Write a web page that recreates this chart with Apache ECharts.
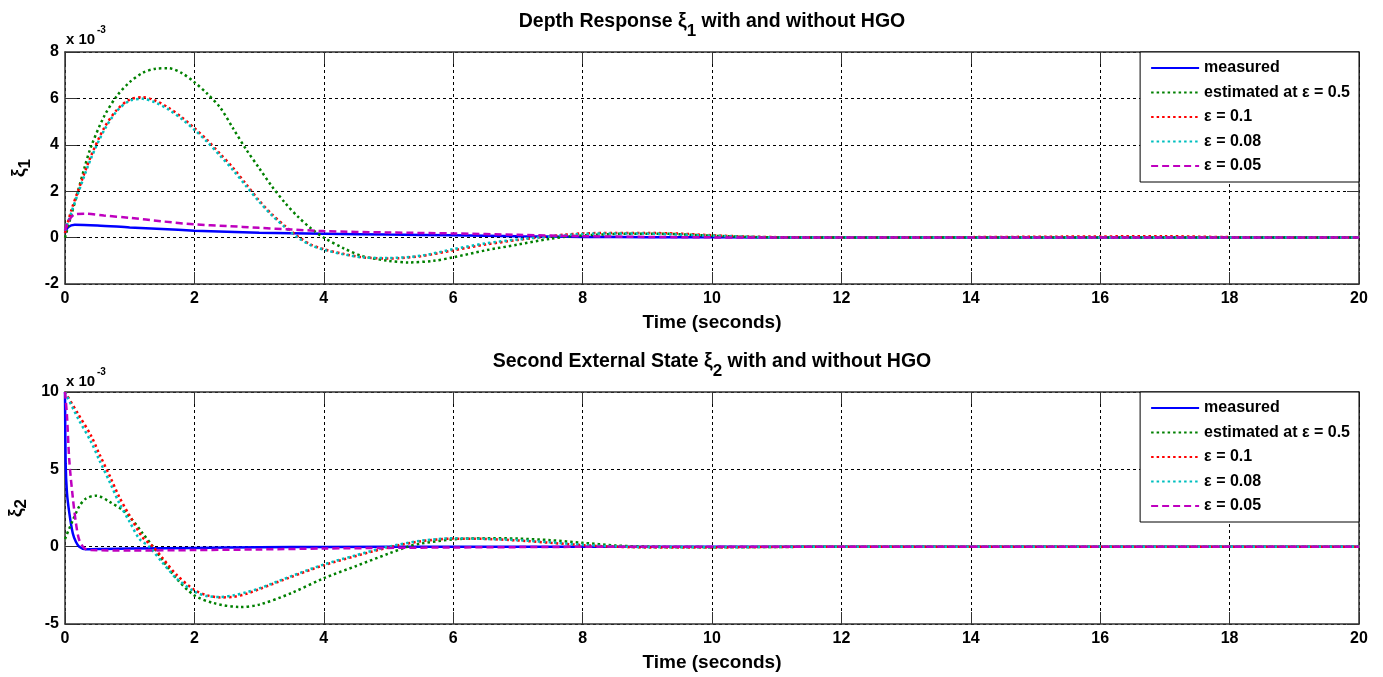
<!DOCTYPE html>
<html>
<head>
<meta charset="utf-8">
<script src="https://cdn.jsdelivr.net/npm/echarts@6/dist/echarts.min.js"></script>
<style>
html,body{margin:0;padding:0;background:#fff;}
#c{width:1383px;height:677px;}
</style>
</head>
<body>
<div id="c"></div>
<script>
// ---------- DATA (values in units of 1e-3) ----------
const xTicks = [0, 2, 4, 6, 8, 10, 12, 14, 16, 18, 20];
const y1Ticks = [-2, 0, 2, 4, 6, 8];
const y2Ticks = [-5, 0, 5, 10];
const seriesNames = ['measured', 'estimated at \u03b5 = 0.5', '\u03b5 = 0.1', '\u03b5 = 0.08', '\u03b5 = 0.05'];

// Plot 1: depth response xi_1  ([time, value])
const xi1_measured = [[0,0.2],[0.05,0.45],[0.15,0.55],[0.5,0.52],[1,0.44],[1.5,0.37],[2,0.3],[2.5,0.25],[3,0.21],[4,0.17],[5,0.13],[6,0.1],[7,0.06],[8,0.03],[9,0.02],[10,0.01],[12,0],[20,0]];
const xi1_eps05 = [[0,0],[0.1,1.0],[0.2,2.0],[0.3,3.0],[0.4,3.9],[0.6,5.2],[0.8,6.1],[1.0,6.7],[1.2,7.1],[1.4,7.28],[1.6,7.3],[1.8,7.1],[2,6.7],[2.2,6.2],[2.4,5.6],[2.6,4.7],[2.8,3.8],[3,3.0],[3.2,2.2],[3.4,1.5],[3.6,0.9],[3.8,0.4],[4,0.0],[4.3,-0.45],[4.6,-0.8],[5,-1.0],[5.3,-1.07],[5.7,-1.0],[6,-0.85],[6.5,-0.55],[7,-0.3],[7.5,-0.05],[7.8,0.05],[8.2,0.12],[8.7,0.17],[9.2,0.17],[9.7,0.12],[10.2,0.06],[10.7,0.02],[11.5,0],[20,0]];
const xi1_eps01 = [[0,0.2],[0.1,1.2],[0.2,2.0],[0.4,3.5],[0.6,4.7],[0.8,5.5],[1.0,5.95],[1.2,6.05],[1.4,5.9],[1.6,5.6],[1.8,5.2],[2,4.72],[2.2,4.2],[2.4,3.6],[2.6,3.0],[2.8,2.3],[3,1.6],[3.2,1.0],[3.4,0.5],[3.6,0.05],[3.8,-0.3],[4,-0.5],[4.3,-0.7],[4.6,-0.85],[5,-0.9],[5.5,-0.8],[6,-0.55],[6.5,-0.3],[7,-0.1],[7.3,0],[7.7,0.12],[8,0.18],[8.5,0.2],[9,0.2],[9.5,0.17],[10,0.1],[10.5,0.05],[11,0.02],[12,0],[16,0.05],[17,0.06],[18,0.02],[20,0]];
const xi1_eps008 = [[0,0.3],[0.1,1.1],[0.2,1.9],[0.4,3.4],[0.6,4.6],[0.8,5.45],[1.0,5.9],[1.2,5.98],[1.4,5.82],[1.6,5.52],[1.8,5.12],[2,4.65],[2.2,4.12],[2.4,3.52],[2.6,2.9],[2.8,2.22],[3,1.55],[3.2,0.95],[3.4,0.45],[3.6,0.0],[3.8,-0.33],[4,-0.52],[4.3,-0.72],[4.6,-0.85],[5,-0.88],[5.5,-0.78],[6,-0.5],[6.5,-0.25],[7,-0.08],[7.3,0],[7.7,0.1],[8,0.16],[8.5,0.18],[9,0.17],[9.5,0.13],[10,0.08],[10.5,0.04],[11,0.01],[12,0],[20,0]];
const xi1_eps005 = [[0,0.3],[0.05,0.7],[0.15,1.0],[0.3,1.03],[0.6,0.95],[1,0.85],[1.5,0.7],[2,0.57],[2.5,0.5],[3,0.42],[3.5,0.35],[4,0.28],[5,0.22],[6,0.18],[7,0.12],[8,0.06],[9,0.03],[10,0.01],[11,0],[20,0]];

// Plot 2: second external state xi_2
const xi2_measured = [[0,10],[0.01,5.4],[0.03,3.5],[0.066,2.2],[0.12,0.87],[0.17,0.3],[0.22,0],[0.32,-0.17],[0.6,-0.15],[1,-0.12],[2,-0.08],[3,-0.04],[4,-0.02],[6,0],[20,0]];
const xi2_eps05 = [[0,0.5],[0.12,1.7],[0.22,2.6],[0.32,3.1],[0.48,3.3],[0.69,2.9],[0.95,2.16],[1.2,0.87],[1.36,0],[1.72,-2.04],[2,-3.15],[2.3,-3.65],[2.7,-3.9],[3.0,-3.75],[3.5,-3.0],[4,-2.04],[4.5,-1.25],[5,-0.45],[5.3,0],[5.5,0.2],[6,0.47],[6.5,0.55],[7,0.52],[7.5,0.42],[8,0.25],[8.5,0.08],[9,0],[10,-0.03],[12,0],[20,0]];
const xi2_eps01 = [[0,10],[0.2,8.6],[0.4,7.2],[0.53,6.0],[0.7,4.5],[0.84,3.2],[1.0,2.0],[1.2,0.6],[1.36,0],[1.5,-0.7],[1.72,-1.8],[2,-2.8],[2.2,-3.15],[2.4,-3.28],[2.6,-3.25],[2.8,-3.05],[3,-2.75],[3.5,-1.95],[4,-1.2],[4.5,-0.6],[5,-0.05],[5.5,0.35],[6,0.52],[6.5,0.5],[7,0.4],[7.5,0.25],[8,0.1],[8.5,0],[9,-0.05],[10,-0.05],[11,-0.02],[12,0],[20,0]];
const xi2_eps008 = [[0,10],[0.2,8.3],[0.4,6.8],[0.53,5.6],[0.7,4.1],[0.84,2.8],[1.0,1.6],[1.15,0.5],[1.3,0],[1.5,-1.0],[1.72,-2.04],[2,-2.9],[2.2,-3.2],[2.4,-3.25],[2.6,-3.15],[2.8,-2.95],[3,-2.7],[3.5,-1.9],[4,-1.15],[4.5,-0.55],[5,0],[5.5,0.38],[6,0.54],[6.5,0.5],[7,0.42],[7.5,0.28],[8,0.12],[8.5,0.02],[9,-0.04],[10,-0.04],[11,-0.02],[12,0],[20,0]];
const xi2_eps005 = [[0,10],[0.03,8.5],[0.066,5.6],[0.12,3.2],[0.17,1.5],[0.22,0.43],[0.3,-0.1],[0.4,-0.22],[1,-0.25],[2,-0.22],[3,-0.18],[4,-0.12],[5,-0.08],[6,-0.05],[7,-0.03],[8,-0.01],[9,0],[20,0]];

// ---------- STYLE ----------
const FONT = 'Liberation Sans, Arial, Helvetica, sans-serif';
const colors = ['#0000ff', '#008000', '#ff0000', '#00bfbf', '#bf00bf'];
const lineTypes = ['solid', [2.5, 3], [2.5, 3], [2.5, 3], [7, 4]];
const lineWidths = [2.5, 2.5, 2.5, 2.5, 2.5];

const chart = echarts.init(document.getElementById('c'), null, {renderer: 'canvas'});

const G = [
  {left: 65, right: 24, top: 52, height: 232, containLabel: false, outerBoundsMode: 'none'},
  {left: 65, right: 24, top: 392, height: 232, containLabel: false, outerBoundsMode: 'none'}
];

function xAx(gi, top) {
  return {
    type: 'value', gridIndex: gi, min: xTicks[0], max: xTicks[xTicks.length - 1], interval: xTicks[1] - xTicks[0],
    position: top ? 'top' : 'bottom',
    name: top ? '' : 'Time (seconds)', nameLocation: 'middle', nameGap: 29,
    nameTextStyle: {fontFamily: FONT, fontWeight: 'bold', fontSize: 19, color: '#000'},
    axisLine: {show: true, onZero: false, lineStyle: {color: '#333', width: 1.5}},
    axisTick: {show: true, inside: true, length: 12, lineStyle: {color: '#333', width: 1}},
    axisLabel: {show: !top, color: '#000', fontFamily: FONT, fontWeight: 'bold', fontSize: 16, margin: 7},
    splitLine: {show: !top, lineStyle: {color: '#000', type: [3, 3], width: 1}}
  };
}
function yAx(gi, right, ticks, label) {
  return {
    type: 'value', gridIndex: gi, min: ticks[0], max: ticks[ticks.length - 1], interval: ticks[1] - ticks[0],
    position: right ? 'right' : 'left',
    name: right ? '' : label, nameLocation: 'middle', nameGap: 17, nameRotate: 90,
    nameTextStyle: {fontFamily: FONT, color: '#000', rich: {
      a: {fontFamily: FONT, fontWeight: 'bold', fontSize: 19, color: '#000', lineHeight: 20, verticalAlign: 'top'},
      b: {fontFamily: FONT, fontWeight: 'bold', fontSize: 17, color: '#000', lineHeight: 32}
    }},
    axisLine: {show: true, onZero: false, lineStyle: {color: '#333', width: 1.5}},
    axisTick: {show: true, inside: true, length: 12, lineStyle: {color: '#333', width: 1}},
    axisLabel: {show: !right, color: '#000', fontFamily: FONT, fontWeight: 'bold', fontSize: 16, margin: 6},
    splitLine: {show: !right, lineStyle: {color: '#000', type: [3, 3], width: 1}}
  };
}

const data1 = [xi1_measured, xi1_eps05, xi1_eps01, xi1_eps008, xi1_eps005];
const data2 = [xi2_measured, xi2_eps05, xi2_eps01, xi2_eps008, xi2_eps005];
const series = [];
[data1, data2].forEach((set, gi) => {
  set.forEach((d, i) => {
    series.push({
      type: 'line', name: seriesNames[i], data: d, xAxisIndex: gi * 2, yAxisIndex: gi * 2,
      symbol: 'none', smooth: 0.3, animation: false, silent: true,
      lineStyle: {color: colors[i], width: lineWidths[i], type: lineTypes[i], cap: 'butt'},
      itemStyle: {color: colors[i]}
    });
  });
});

function legend(top) {
  return {
    orient: 'vertical', right: 24, top: top, data: seriesNames,
    icon: 'inherit',
    itemWidth: 48, itemHeight: 14, itemGap: 8.5, padding: [8, 9, 8, 10],
    borderColor: '#000', borderWidth: 1, backgroundColor: '#fff',
    selectedMode: false,
    itemStyle: {color: 'rgba(0,0,0,0)', borderWidth: 0},
    textStyle: {fontFamily: FONT, fontWeight: 'bold', fontSize: 16, color: '#000'}
  };
}

const titleRich = {
  a: {fontFamily: FONT, fontWeight: 'bold', fontSize: 19.5, color: '#000', lineHeight: 20, verticalAlign: 'top'},
  b: {fontFamily: FONT, fontWeight: 'bold', fontSize: 17, color: '#000', lineHeight: 38}
};
function expText(y) {
  return [
    {type: 'text', left: 66, top: y, style: {text: 'x 10', fontFamily: FONT, fontWeight: 'bold', fontSize: 15, fill: '#000'}},
    {type: 'text', left: 97, top: y - 7, style: {text: '-3', fontFamily: FONT, fontWeight: 'bold', fontSize: 10, fill: '#000'}}
  ];
}

chart.setOption({
  animation: false,
  backgroundColor: '#fff',
  grid: G,
  xAxis: [xAx(0, false), xAx(0, true), xAx(1, false), xAx(1, true)],
  yAxis: [yAx(0, false, y1Ticks, '{a|\u03be}{b|1}'), yAx(0, true, y1Ticks, ''), yAx(1, false, y2Ticks, '{a|\u03be}{b|2}'), yAx(1, true, y2Ticks, '')],
  legend: [legend(52), legend(392)],
  series: series,
  graphic: [
    {type: 'text', x: 712, y: 12, style: {text: '{a|Depth Response \u03be}{b|1}{a| with and without HGO}', rich: titleRich, align: 'center', textAlign: 'center'}},
    {type: 'text', x: 712, y: 352, style: {text: '{a|Second External State \u03be}{b|2}{a| with and without HGO}', rich: titleRich, align: 'center', textAlign: 'center'}}
  ].concat(expText(32)).concat(expText(374))
});
</script>
</body>
</html>
